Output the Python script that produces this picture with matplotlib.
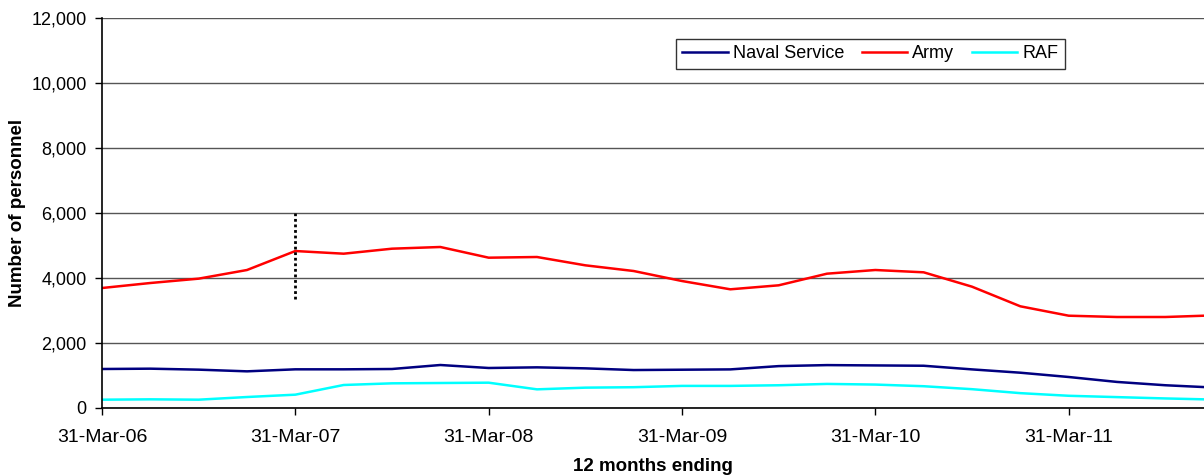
import numpy as np
import matplotlib
matplotlib.use("Agg")
import matplotlib.pyplot as plt

plt.rcParams['font.family'] = ['Liberation Sans', 'DejaVu Sans']

# quarterly points, 12 months ending 31-Mar-06 onwards
tick_labels = ['31-Mar-06', '31-Mar-07', '31-Mar-08', '31-Mar-09', '31-Mar-10', '31-Mar-11']

naval = [1200, 1210, 1180, 1128, 1190, 1190, 1200, 1323, 1231, 1251, 1220, 1168,
         1178, 1188, 1289, 1320, 1310, 1300, 1188, 1086, 954, 802, 700, 630]
army = [3692, 3846, 3980, 4246, 4830, 4748, 4902, 4954, 4625, 4646, 4390, 4215,
        3907, 3652, 3775, 4133, 4246, 4175, 3733, 3129, 2840, 2800, 2800, 2850]
raf = [256, 267, 256, 338, 410, 708, 759, 769, 779, 574, 626, 640,
       680, 680, 700, 741, 721, 670, 579, 457, 376, 335, 294, 260]

# dotted break marker at 31-Mar-07
break_idx = 4
break_range = [3360, 6000]

x = np.arange(len(army))

fig = plt.figure(figsize=(12.04, 4.76), dpi=100)
ax = fig.add_axes([102 / 1204, 1 - 408 / 476, 1 - 102 / 1204, (408 - 18) / 476])

ax.plot(x, naval, color='#000080', lw=1.8, label='Naval Service')
ax.plot(x, army, color='#FF0000', lw=1.8, label='Army')
ax.plot(x, raf, color='#00FFFF', lw=1.8, label='RAF')
ax.plot([break_idx, break_idx], break_range, color='black', lw=2, linestyle=(0, (1, 1)))

ax.set_xlim(0, 22.8)
ax.set_ylim(0, 12000)
ax.set_yticks(range(0, 12001, 2000))
ax.set_yticklabels([f'{v:,}' for v in range(0, 12001, 2000)])
ax.set_xticks(range(0, len(army), 4))
ax.set_xticklabels(tick_labels)
ax.tick_params(direction='out', length=5, width=1, color='black')
ax.tick_params(axis='x', pad=10, labelsize=14)
ax.tick_params(axis='y', pad=6, labelsize=13)

ax.grid(axis='y', color='#555555', lw=1)
ax.set_axisbelow(True)
for s in ['top', 'right']:
    ax.spines[s].set_visible(False)
for s in ['left', 'bottom']:
    ax.spines[s].set_color('black')
    ax.spines[s].set_linewidth(1.2)

ax.set_xlabel('12 months ending', fontsize=13.5, fontweight='bold')
ax.set_ylabel('Number of personnel', fontsize=13.5, fontweight='bold')
ax.xaxis.set_label_coords(0.5, -0.128)
ax.yaxis.set_label_coords(-0.069, 0.5)

leg = ax.legend(loc='upper left', bbox_to_anchor=(0.521, 0.946), ncol=3, fontsize=13,
                frameon=True, fancybox=False, edgecolor='black', handlelength=2.5,
                handletextpad=0.28, columnspacing=1.0, borderpad=0.35, borderaxespad=0)
leg.get_frame().set_linewidth(1)

fig.savefig('out.png', dpi=100)
